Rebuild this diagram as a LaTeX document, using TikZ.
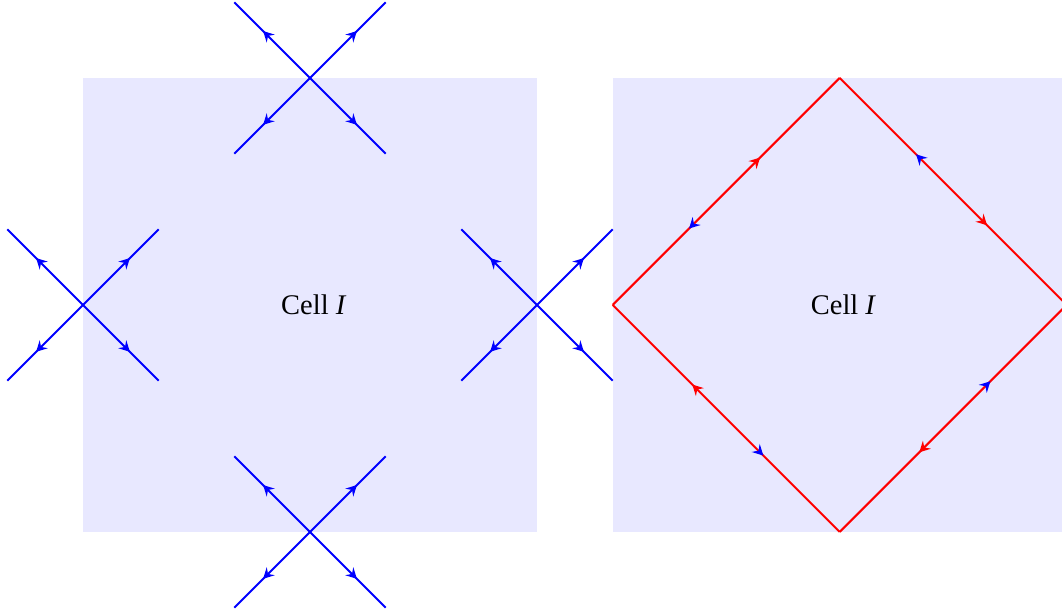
\documentclass[tikz,border=0pt]{standalone}
\usepackage{fontspec}
\setmainfont{Liberation Serif}
\usepackage{tikz}
\usetikzlibrary{arrows.meta, decorations.markings}

\begin{document}
\begin{tikzpicture}[
      cell/.style={fill=blue!9, draw=none},
      lbl/.style={font=\fontsize{10.7}{13}\selectfont},
      arm/.style={blue, line width=0.75pt, postaction={decorate},
                  decoration={markings,
                    mark=at position 0.62 with {\arrow{Stealth[length=4pt, width=4.2pt, inset=1.4pt]}}}},
      loopedge/.style={red, line width=0.75pt, postaction={decorate},
                  decoration={markings,
                    mark=at position 0.37 with {\arrow[blue]{Stealth[reversed, length=4pt, width=4.2pt, inset=1.4pt]}},
                    mark=at position 0.65 with {\arrow{Stealth[length=4pt, width=4.2pt, inset=1.4pt]}}}}
    ]
    \useasboundingbox (-4.097,-4.083) rectangle (9.938,4.03);

    % the two cells
    \fill[cell] (-3,-3) rectangle (3,3);
    \fill[cell] (4,-3) rectangle (10,3);
    \node[lbl] (cellL) at (0.05,0) {Cell \textit{I}};
    \node[lbl] (cellR) at (7.05,0) {Cell \textit{I}};

    % vertices on the boundary of the left cell
    \coordinate (vt) at (0,3);
    \coordinate (vl) at (-3,0);
    \coordinate (vr) at (3,0);
    \coordinate (vb) at (0,-3);
    \foreach \v in {vt,vl,vr,vb}
      \foreach \d in {(1,1),(1,-1),(-1,1),(-1,-1)}
        \draw[arm] (\v) -- ++\d;

    % loop around the right cell
    \coordinate (dl) at (4,0);
    \coordinate (dt) at (7,3);
    \coordinate (dr) at (10,0);
    \coordinate (db) at (7,-3);
    \draw[loopedge] (dl) -- (dt);
    \draw[loopedge] (dt) -- (dr);
    \draw[loopedge] (dr) -- (db);
    \draw[loopedge] (db) -- (dl);
  \end{tikzpicture}
\end{document}
